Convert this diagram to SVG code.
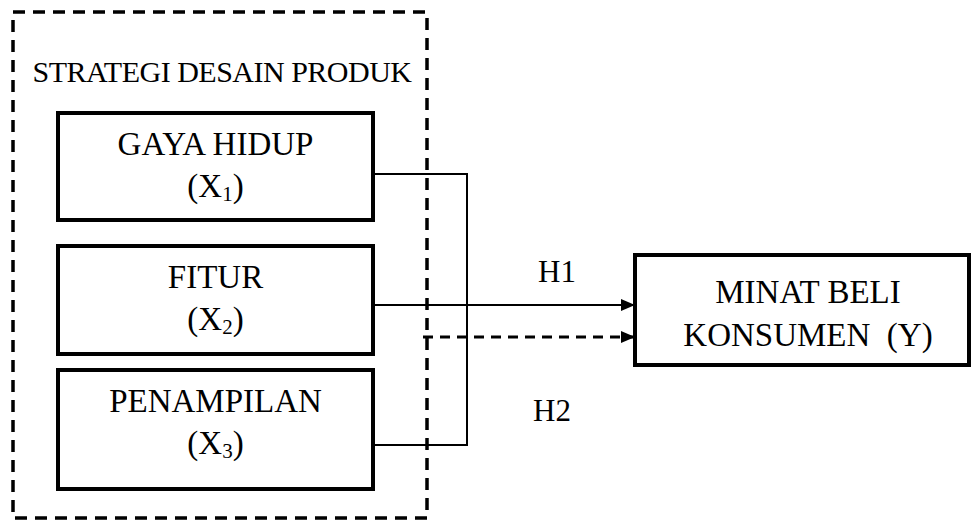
<svg xmlns="http://www.w3.org/2000/svg" width="972" height="522" viewBox="0 0 972 522">
<style>
text{font-family:"Liberation Serif","Times New Roman",serif;font-size:33px;fill:#000;text-anchor:middle}
.title{font-size:30px}
.h{font-size:31px}
.box{fill:#fff;stroke:#000;stroke-width:4}
.dash{fill:none;stroke:#000;stroke-width:3.5;stroke-dasharray:12 8}
.ln{fill:none;stroke:#000;stroke-width:2}
.sub{font-size:21px}
</style>
<defs>
<marker id="arr" viewBox="0 0 14 12" refX="14" refY="6" markerWidth="14" markerHeight="12" markerUnits="userSpaceOnUse" orient="auto">
<path d="M0,0 L14,6 L0,12 Z" fill="#000"/>
</marker>
</defs>
<g id="group-strategi">
<rect class="dash" x="13" y="12" width="414" height="506"/>
<text class="title" x="222" y="82" letter-spacing="-0.5">STRATEGI DESAIN PRODUK</text>
</g>
<g id="node-x1">
<rect class="box" x="58" y="113" width="315" height="107"/>
<text x="215.5" y="155">GAYA HIDUP</text>
<text x="215.5" y="197">(X<tspan class="sub" dy="4">1</tspan><tspan dy="-4">)</tspan></text>
</g>
<g id="node-x2">
<rect class="box" x="58" y="246" width="315" height="108"/>
<text x="215.5" y="288">FITUR</text>
<text x="215.5" y="330">(X<tspan class="sub" dy="4">2</tspan><tspan dy="-4">)</tspan></text>
</g>
<g id="node-x3">
<rect class="box" x="58" y="370" width="315" height="119"/>
<text x="215.5" y="412">PENAMPILAN</text>
<text x="215.5" y="454">(X<tspan class="sub" dy="4">3</tspan><tspan dy="-4">)</tspan></text>
</g>
<g id="node-y">
<rect class="box" x="635" y="255" width="334" height="110"/>
<text x="808" y="303">MINAT BELI</text>
<text x="808" y="346" xml:space="preserve">KONSUMEN  (Y)</text>
</g>
<g id="connectors">
<polyline class="ln" points="373,174 467,174 467,445 373,445"/>
<line class="ln" x1="373" y1="305" x2="635" y2="305" marker-end="url(#arr)"/>
<line fill="none" stroke="#000" stroke-width="3" stroke-dasharray="10 7" x1="423" y1="337" x2="635" y2="337" marker-end="url(#arr)"/>
<text class="h" x="557" y="282">H1</text>
<text class="h" x="552" y="421">H2</text>
</g>
</svg>
